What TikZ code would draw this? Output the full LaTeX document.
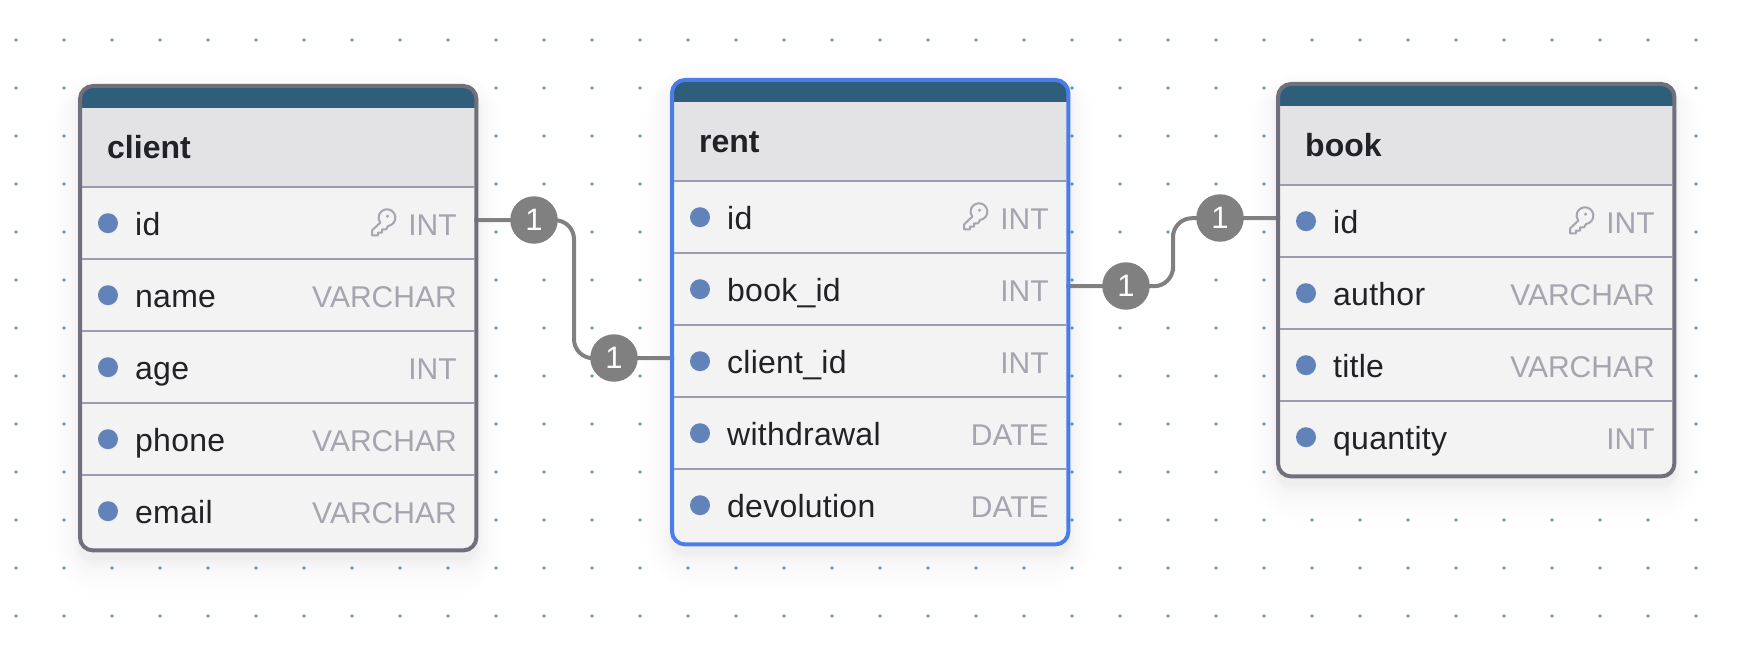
\documentclass[tikz,border=0pt]{standalone}
\usepackage{fontspec}
\setmainfont{Liberation Sans}
\newfontfamily\colfont[LetterSpace=0.8]{Liberation Sans}
\usepackage{xcolor}
\usetikzlibrary{calc}
\definecolor{banddark}{RGB}{46,94,122}
\definecolor{headgray}{RGB}{227,227,230}
\definecolor{rowgray}{RGB}{243,243,244}
\definecolor{framegray}{RGB}{112,112,124}
\definecolor{frameblue}{RGB}{74,125,232}
\definecolor{rowline}{RGB}{154,156,174}
\definecolor{pkblue}{RGB}{98,131,185}
\definecolor{typegray}{RGB}{165,165,175}
\definecolor{inkdark}{RGB}{33,34,38}
\definecolor{griddot}{RGB}{107,155,200}
\tikzset{
  keyicon/.pic={
    \draw[typegray, line width=2pt, line join=round] (1,8.3) arc[start angle=83, end angle=-217, radius=8.4]
      -- (-15,12.7) -- (-15,17.7) -- (-9,17.7) -- (-9,15) -- (-5,15) -- (-5,11.7) -- (-1,11.7) -- cycle;
    \fill[typegray] (0.5,-1.5) circle (1.7);
  }
}
\begin{document}
\begin{tikzpicture}[
  x=1pt, y=-1pt,
  tablebox/.style={rectangle, fill=rowgray, rounded corners=13pt, anchor=north west, inner sep=0pt},
  framebox/.style={line width=4pt, rounded corners=13pt},
  headbox/.style={rectangle, fill=headgray, anchor=north west, inner sep=0pt, minimum width=396pt, minimum height=79pt},
  rowbox/.style={rectangle, fill=rowgray, anchor=north west, inner sep=0pt, minimum width=392pt, minimum height=72pt},
  coltext/.style={anchor=west, inner sep=0pt, text height=24pt, text depth=0pt, font=\colfont\fontsize{32}{36}\selectfont, text=inkdark},
  typetext/.style={anchor=east, inner sep=0pt, text height=24pt, text depth=0pt, font=\fontsize{30}{36}\selectfont, text=typegray},
  titletext/.style={anchor=west, inner sep=0pt, text height=23pt, text depth=0pt, font=\fontsize{32}{36}\selectfont\bfseries, text=inkdark},
  pkdot/.style={circle, fill=pkblue, minimum size=20pt, inner sep=0pt},
  badge/.style={circle, fill=black!50, minimum size=47.5pt, inner sep=0pt, text=white, font=\fontsize{31}{36}\selectfont},
  conn/.style={draw=black!50, line width=4pt, rounded corners=19pt},
]
\path[use as bounding box] (0,0) rectangle (1738,650);
% dotted background
\foreach \i in {0,...,35} \foreach \j in {0,...,12}
  \fill[griddot] ({16+48*\i},{40+48*\j}) circle (1.8);
% soft shadows under the tables
\foreach \sx/\sy/\sh in {80/86/464,672/80/464,1278/84/392}
  \foreach \s in {1,2,3,4,5,6,7,8,10,12,14,17,20,24,28,33,38}
    \fill[black, opacity=.005, rounded corners={(13+\s)*1pt}] ({\sx-.7*\s},{\sy+6-.5*\s}) rectangle ({\sx+396+.7*\s},{\sy+\sh+8+\s});

% client table
\node[tablebox, minimum width=396pt, minimum height=464pt] (client) at (80,86) {};
\fill[banddark, rounded corners=13pt] (80,86) rectangle (476,130);
\node[headbox] (clienthead) at (80,108) {};
\node[titletext] (clienttitle) at (107,147) {client};
\foreach \i/\col/\kind in {1/id/INT,2/name/VARCHAR,3/age/INT,4/phone/VARCHAR,5/email/VARCHAR} {
  \node[rowbox] (client\i) at (82,{115+72*\i}) {};
  \draw[rowline, line width=2pt] (client\i.north west) -- (client\i.north east);
  \node[pkdot] (clientdot\i) at ([xshift=26pt]client\i.west) {};
  \node[coltext] (clientcol\i) at ([xshift=53pt]client\i.west) {\col};
  \node[typetext] (clienttype\i) at ([xshift=-17.5pt]client\i.east) {\kind};
}

% rent table
\node[tablebox, minimum width=396pt, minimum height=464pt] (rent) at (672,80) {};
\fill[banddark, rounded corners=13pt] (672,80) rectangle (1068,124);
\node[headbox] (renthead) at (672,102) {};
\node[titletext] (renttitle) at (699,141) {rent};
\foreach \i/\col/\kind in {1/id/INT,2/book\_id/INT,3/client\_id/INT,4/withdrawal/DATE,5/devolution/DATE} {
  \node[rowbox] (rent\i) at (674,{109+72*\i}) {};
  \draw[rowline, line width=2pt] (rent\i.north west) -- (rent\i.north east);
  \node[pkdot] (rentdot\i) at ([xshift=26pt]rent\i.west) {};
  \node[coltext] (rentcol\i) at ([xshift=53pt]rent\i.west) {\col};
  \node[typetext] (renttype\i) at ([xshift=-17.5pt]rent\i.east) {\kind};
}

% book table
\node[tablebox, minimum width=396pt, minimum height=392pt] (book) at (1278,84) {};
\fill[banddark, rounded corners=13pt] (1278,84) rectangle (1674,128);
\node[headbox] (bookhead) at (1278,106) {};
\node[titletext] (booktitle) at (1305,145) {book};
\foreach \i/\col/\kind in {1/id/INT,2/author/VARCHAR,3/title/VARCHAR,4/quantity/INT} {
  \node[rowbox] (book\i) at (1280,{113+72*\i}) {};
  \draw[rowline, line width=2pt] (book\i.north west) -- (book\i.north east);
  \node[pkdot] (bookdot\i) at ([xshift=26pt]book\i.west) {};
  \node[coltext] (bookcol\i) at ([xshift=53pt]book\i.west) {\col};
  \node[typetext] (booktype\i) at ([xshift=-17.5pt]book\i.east) {\kind};
}

% key icons
\pic at (1585,215.7) {keyicon};
\pic at (387,217.7) {keyicon};
\pic at (979,211.7) {keyicon};

% connectors
\coordinate (bendclient) at (574,289);
\coordinate (bendbook) at (1173,252);
\draw[conn] ([yshift=3pt]client1.east) -| (bendclient) |- ([yshift=3pt]rent3.west);
\draw[conn] ([yshift=3pt]rent2.east) -| (bendbook) |- ([yshift=3pt]book1.west);

% frames on top
\draw[framebox, framegray] (client.south west) rectangle (client.north east);
\draw[framebox, frameblue] (rent.south west) rectangle (rent.north east);
\draw[framebox, framegray] (book.south west) rectangle (book.north east);

% cardinality badges
\node[badge] (badgeclient) at (534,220) {1};
\node[badge] (badgerent) at (614,358) {1};
\node[badge] (badgebookid) at (1126,286) {1};
\node[badge] (badgebook) at (1220,218) {1};
\end{tikzpicture}
\end{document}
